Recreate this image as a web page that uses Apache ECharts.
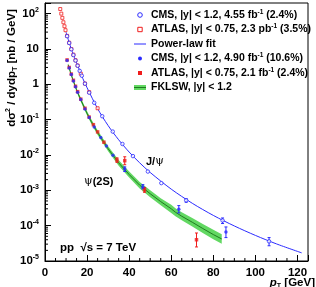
<!DOCTYPE html>
<html><head><meta charset="utf-8">
<script src="https://cdn.jsdelivr.net/npm/echarts@6/dist/echarts.min.js"></script>
<style>html,body{margin:0;padding:0;background:#fff}#c{width:316px;height:287px}</style>
</head><body><div id="c"></div>
<script>
// ---- data ----
const xTickLabels = [0, 20, 40, 60, 80, 100, 120];
const yTickExponents = [-5, -4, -3, -2, -1, 0, 1, 2];

const atlasJpsiPt  = [7.25, 7.75, 8.25, 8.75, 9.25, 9.75, 10.5, 11.5, 12.5, 13.5, 14.5, 15.5, 17, 19, 21, 25];
const atlasJpsiVal = [135, 100, 76, 57, 44, 34, 23.5, 15, 10, 6.9, 4.8, 3.4, 2.0, 1.05, 0.60, 0.21];

const cmsJpsiPt  = [10.5, 11.5, 12.5, 13.5, 14.5, 15.5, 16.5, 17.5, 19, 21, 23.4, 27.2, 32.2, 36.8, 41.8, 48.9, 55.3, 67.1, 84.4, 106.5];
const cmsJpsiVal = [23, 14.8, 9.8, 6.7, 4.7, 3.35, 2.4, 1.75, 1.04, 0.58, 0.30, 0.125, 0.046, 0.0205, 0.0093, 0.0034, 0.0016, 5.2e-4, 1.4e-4, 3.6e-5];
const cmsJpsiErrPt = [67.1, 84.4, 106.5];
const cmsJpsiErrLo = [4.6e-4, 1.15e-4, 2.7e-5];
const cmsJpsiErrHi = [5.8e-4, 1.65e-4, 4.6e-5];

const fitPt  = [10, 12, 14, 16, 18, 20, 25, 30, 35, 40, 45, 50, 60, 70, 80, 90, 100, 110, 122];
const fitVal = [30, 12.3, 5.8, 2.9, 1.45, 0.80, 0.205, 0.068, 0.027, 0.0121, 0.0060, 3.2e-3, 1.08e-3, 4.3e-4, 1.95e-4, 9.8e-5, 5.3e-5, 3.05e-5, 1.7e-5];

const cmsPsiPt  = [10.5, 11.5, 12.5, 13.5, 14.5, 15.5, 17, 19, 21, 23.4, 26.5, 29.2, 32.3, 37.9, 46.5, 63.6, 86];
const cmsPsiVal = [4.7, 2.9, 1.88, 1.25, 0.86, 0.60, 0.37, 0.20, 0.115, 0.062, 0.031, 0.018, 0.0098, 4.0e-3, 1.25e-3, 2.9e-4, 6.6e-5];
const cmsPsiErrPt = [37.9, 46.5, 63.6, 86];
const cmsPsiErrLo = [3.4e-3, 1.1e-3, 2.3e-4, 4.6e-5];
const cmsPsiErrHi = [4.6e-3, 1.45e-3, 3.7e-4, 9.2e-5];

const atlasPsiPt  = [10.5, 11.5, 12.5, 13.5, 14.5, 15.5, 17, 19, 21, 23, 25, 28, 34.2, 37.9, 47.3, 72];
const atlasPsiVal = [4.9, 3.0, 1.95, 1.3, 0.88, 0.62, 0.38, 0.21, 0.118, 0.072, 0.045, 0.023, 7.2e-3, 6.9e-3, 1.03e-3, 4.0e-5];
const atlasPsiErrPt = [34.2, 37.9, 47.3, 72];
const atlasPsiErrLo = [6.2e-3, 5.3e-3, 8.8e-4, 2.5e-5];
const atlasPsiErrHi = [8.3e-3, 8.9e-3, 1.2e-3, 6.2e-5];

const bandPt  = [11, 12, 13, 14, 15, 16, 18, 20, 22, 25, 30, 35, 40, 45, 50, 55, 60, 62, 65, 70, 75, 80, 84];
const bandMid = [3.6, 2.3, 1.5, 1.02, 0.70, 0.50, 0.27, 0.15, 0.088, 0.043, 0.015, 6.0e-3, 2.8e-3, 1.4e-3, 8.0e-4, 4.8e-4, 3.0e-4, 2.4e-4, 1.85e-4, 1.25e-4, 8.3e-5, 5.6e-5, 4.2e-5];
const bandLo  = [3.25, 2.08, 1.35, 0.91, 0.62, 0.44, 0.235, 0.13, 0.076, 0.037, 0.0127, 5.0e-3, 2.3e-3, 1.13e-3, 6.4e-4, 3.8e-4, 2.3e-4, 1.85e-4, 1.42e-4, 9.5e-5, 6.2e-5, 4.1e-5, 3.1e-5];
const bandHi  = [3.95, 2.55, 1.67, 1.14, 0.78, 0.57, 0.31, 0.172, 0.102, 0.050, 0.0177, 7.2e-3, 3.4e-3, 1.73e-3, 1.0e-3, 6.0e-4, 3.9e-4, 3.1e-4, 2.4e-4, 1.65e-4, 1.12e-4, 7.6e-5, 5.7e-5];

const legendLabels = [
  ['CMS, |y| < 1.2, 4.55 fb', ' (2.4%)'],
  ['ATLAS, |y| < 0.75, 2.3 pb', ' (3.5%)'],
  ['Power-law fit', null],
  ['CMS, |y| < 1.2, 4.90 fb', ' (10.6%)'],
  ['ATLAS, |y| < 0.75, 2.1 fb', ' (2.4%)'],
  ['FKLSW, |y| < 1.2', null]
];

// ---- style ----
const FONT = 'Liberation Sans, Arial, Helvetica, sans-serif';
const BLUE = '#2b2bff', RED = '#f01c1c', GREEN = '#62d862', DGREEN = '#1f7a1f';
const X_MIN = 0, X_MAX = 125, Y_MIN = 1e-5, Y_MAX = 200;

const zip = (a, b) => a.map((v, i) => [v, b[i]]);
const zip3 = (a, b, c) => a.map((v, i) => [v, b[i], c[i]]);

// minor tick positions (axis decoration)
const xMinor = [];
for (let v = 5; v < X_MAX; v += 5) if (v % 20 !== 0) xMinor.push([v, Y_MIN]);
const yMinor = [];
yTickExponents.forEach(e => { for (let m = 2; m <= 9; m++) { const v = m * Math.pow(10, e); if (v < Y_MAX) yMinor.push([X_MIN, v]); } });

function errRender(color) {
  return function (params, api) {
    const x = api.value(0), lo = api.value(1), hi = api.value(2);
    const a = api.coord([x, lo]), b = api.coord([x, hi]);
    const st = { stroke: color, lineWidth: 1 };
    return { type: 'group', children: [
      { type: 'line', shape: { x1: a[0], y1: a[1], x2: b[0], y2: b[1] }, style: st },
      { type: 'line', shape: { x1: a[0] - 1.5, y1: a[1], x2: a[0] + 1.5, y2: a[1] }, style: st },
      { type: 'line', shape: { x1: b[0] - 1.5, y1: b[1], x2: b[0] + 1.5, y2: b[1] }, style: st }
    ]};
  };
}

// ---- hand-built legend (icons + real text) ----
const LX = 140, LT = 151, rowY = [15, 29.5, 44, 58.5, 73, 87.5];
const legendIcons = [
  cy => ({ type: 'circle', shape: { cx: LX, cy: cy, r: 2.3 }, style: { fill: '#fff', stroke: BLUE, lineWidth: 1 } }),
  cy => ({ type: 'rect', shape: { x: LX - 2.2, y: cy - 2.2, width: 4.4, height: 4.4 }, style: { fill: '#fff', stroke: RED, lineWidth: 1 } }),
  cy => ({ type: 'line', shape: { x1: LX - 6, y1: cy, x2: LX + 6, y2: cy }, style: { stroke: BLUE, lineWidth: 1 } }),
  cy => ({ type: 'circle', shape: { cx: LX, cy: cy, r: 2 }, style: { fill: BLUE } }),
  cy => ({ type: 'rect', shape: { x: LX - 2, y: cy - 2, width: 4, height: 4 }, style: { fill: RED } }),
  cy => ({ type: 'group', children: [
    { type: 'rect', shape: { x: LX - 6, y: cy - 2.5, width: 12, height: 5 }, style: { fill: GREEN } },
    { type: 'line', shape: { x1: LX - 6, y1: cy, x2: LX + 6, y2: cy }, style: { stroke: DGREEN, lineWidth: 1 } } ] })
];
const legendRich = {
  n: { fontFamily: FONT, fontSize: 10.5, fontWeight: 'bold', fill: '#000', lineHeight: 13 },
  s: { fontFamily: FONT, fontSize: 6.5, fontWeight: 'bold', fill: '#000', verticalAlign: 'top', lineHeight: 8 }
};
const legendGraphics = [];
legendLabels.forEach((lab, i) => {
  const cy = rowY[i];
  legendGraphics.push(legendIcons[i](cy));
  const txt = lab[1] === null ? '{n|' + lab[0] + '}' : '{n|' + lab[0] + '}{s|-1}{n|' + lab[1] + '}';
  legendGraphics.push({ type: 'text', x: LT, y: cy, style: { text: txt, textVerticalAlign: 'middle', rich: legendRich } });
});

const chart = echarts.init(document.getElementById('c'), null, { renderer: 'canvas' });
chart.setOption({
  animation: false,
  backgroundColor: '#fff',
  grid: { left: 45, right: 8, top: 3, bottom: 26, show: true, borderColor: '#000', borderWidth: 1, backgroundColor: 'transparent' },
  xAxis: {
    type: 'value', min: X_MIN, max: X_MAX, interval: 20,
    axisLine: { show: true, lineStyle: { color: '#000', width: 1 } },
    axisTick: { show: true, inside: true, length: 6, lineStyle: { color: '#000' } },
    splitLine: { show: false },
    axisLabel: {
      margin: 6, color: '#000', fontFamily: FONT, fontSize: 11.5, fontWeight: 'bold',
      formatter: v => (xTickLabels.indexOf(v) >= 0 ? String(v) : '')
    }
  },
  yAxis: {
    type: 'log', min: Y_MIN, max: Y_MAX, logBase: 10,
    axisLine: { show: true, lineStyle: { color: '#000', width: 1 } },
    axisTick: { show: true, inside: true, length: 6, lineStyle: { color: '#000' } },
    splitLine: { show: false },
    axisLabel: {
      margin: 6, color: '#000',
      formatter: function (v) {
        const l = Math.log10(v), e = Math.round(l);
        if (Math.abs(l - e) > 1e-6 || yTickExponents.indexOf(e) < 0) return '';
        if (e === 0) return '{b|1}';
        if (e === 1) return '{b|10}';
        return '{b|10}{s|' + e + '}';
      },
      rich: {
        b: { fontFamily: FONT, fontSize: 11.5, fontWeight: 'bold', color: '#000', lineHeight: 14 },
        s: { fontFamily: FONT, fontSize: 7, fontWeight: 'bold', color: '#000', verticalAlign: 'top', lineHeight: 8 }
      }
    }
  },
  graphic: legendGraphics.concat([
    { type: 'text', x: 12, y: 68, rotation: Math.PI / 2,
      style: { text: '{a|dσ}{s|2}{a| / dydp}{u|T}{a| [nb / GeV]}', textAlign: 'center', textVerticalAlign: 'middle',
        rich: {
          a: { fontFamily: FONT, fontSize: 11.5, fontWeight: 'bold', fill: '#000', lineHeight: 14 },
          s: { fontFamily: FONT, fontSize: 7, fontWeight: 'bold', fill: '#000', verticalAlign: 'top', lineHeight: 8 },
          u: { fontFamily: FONT, fontSize: 7, fontWeight: 'bold', fill: '#000', verticalAlign: 'bottom', lineHeight: 8 }
        } } },
    { type: 'text', right: 1, top: 277,
      style: { text: '{i|p}{u|T}{a| [GeV]}',
        rich: {
          a: { fontFamily: FONT, fontSize: 11.5, fontWeight: 'bold', fill: '#000', lineHeight: 14 },
          i: { fontFamily: FONT, fontSize: 11.5, fontWeight: 'bold', fontStyle: 'italic', fill: '#000', lineHeight: 14 },
          u: { fontFamily: FONT, fontSize: 7, fontWeight: 'bold', fill: '#000', verticalAlign: 'bottom', lineHeight: 8 }
        } } },
    { type: 'text', left: 146, top: 156,
      style: { text: '{a|J/}{g|ψ}',
        rich: {
          a: { fontFamily: FONT, fontSize: 11, fontWeight: 'bold', fill: '#000' },
          g: { fontFamily: 'DejaVu Serif, Liberation Serif, serif', fontSize: 11, fill: '#000' }
        } } },
    { type: 'text', left: 84, top: 176,
      style: { text: '{g|ψ}{a|(2S)}',
        rich: {
          a: { fontFamily: FONT, fontSize: 11, fontWeight: 'bold', fill: '#000' },
          g: { fontFamily: 'DejaVu Serif, Liberation Serif, serif', fontSize: 11, fill: '#000' }
        } } },
    { type: 'text', left: 60, top: 242,
      style: { text: 'pp  √s = 7 TeV', fontFamily: FONT, fontSize: 11.5, fontWeight: 'bold', fill: '#000' } }
  ]),
  series: [
    { name: 'FKLSW, |y| < 1.2', type: 'custom', z: 1, silent: true,
      itemStyle: { color: GREEN },
      data: [[bandPt[0], bandMid[0]]],
      renderItem: function (params, api) {
        if (params.dataIndex !== 0) return null;
        const pts = [];
        for (let i = 0; i < bandPt.length; i++) pts.push(api.coord([bandPt[i], bandHi[i]]));
        for (let i = bandPt.length - 1; i >= 0; i--) pts.push(api.coord([bandPt[i], bandLo[i]]));
        return { type: 'polygon', shape: { points: pts }, style: { fill: GREEN, stroke: null } };
      } },
    { name: 'FKLSW central', type: 'line', z: 2, silent: true, symbol: 'none',
      data: zip(bandPt, bandMid), lineStyle: { color: DGREEN, width: 1 } },
    { name: 'Power-law fit', type: 'line', z: 3, silent: true, symbol: 'none', smooth: 0.3,
      data: zip(fitPt, fitVal), lineStyle: { color: BLUE, width: 1 } },
    { name: 'errBlue', type: 'custom', z: 4, silent: true, encode: { x: 0, y: [1, 2] },
      data: zip3(cmsJpsiErrPt, cmsJpsiErrLo, cmsJpsiErrHi).concat(zip3(cmsPsiErrPt, cmsPsiErrLo, cmsPsiErrHi)),
      renderItem: errRender(BLUE) },
    { name: 'errRed', type: 'custom', z: 4, silent: true, encode: { x: 0, y: [1, 2] },
      data: zip3(atlasPsiErrPt, atlasPsiErrLo, atlasPsiErrHi),
      renderItem: errRender(RED) },
    { name: 'ATLAS J/psi', type: 'scatter', z: 5, symbol: 'rect', symbolSize: 3,
      itemStyle: { color: '#fff', borderColor: RED, borderWidth: 1 }, data: zip(atlasJpsiPt, atlasJpsiVal) },
    { name: 'CMS J/psi', type: 'scatter', z: 6, symbol: 'circle', symbolSize: 3.5,
      itemStyle: { color: '#fff', borderColor: BLUE, borderWidth: 1 }, data: zip(cmsJpsiPt, cmsJpsiVal) },
    { name: 'ATLAS psi2S', type: 'scatter', z: 5, symbol: 'rect', symbolSize: 3.5,
      itemStyle: { color: RED }, data: zip(atlasPsiPt, atlasPsiVal) },
    { name: 'CMS psi2S', type: 'scatter', z: 6, symbol: 'circle', symbolSize: 3.5,
      itemStyle: { color: BLUE }, data: zip(cmsPsiPt, cmsPsiVal) },
    { name: 'xMinorTicks', type: 'custom', z: 10, silent: true, clip: false, data: xMinor,
      renderItem: function (params, api) {
        const p = api.coord([api.value(0), api.value(1)]);
        return { type: 'line', shape: { x1: p[0], y1: p[1], x2: p[0], y2: p[1] - 3 }, style: { stroke: '#000', lineWidth: 1 } };
      } },
    { name: 'yMinorTicks', type: 'custom', z: 10, silent: true, clip: false, data: yMinor,
      renderItem: function (params, api) {
        const p = api.coord([api.value(0), api.value(1)]);
        return { type: 'line', shape: { x1: p[0], y1: p[1], x2: p[0] + 3, y2: p[1] }, style: { stroke: '#000', lineWidth: 1 } };
      } }
  ]
});
</script>
</body></html>
